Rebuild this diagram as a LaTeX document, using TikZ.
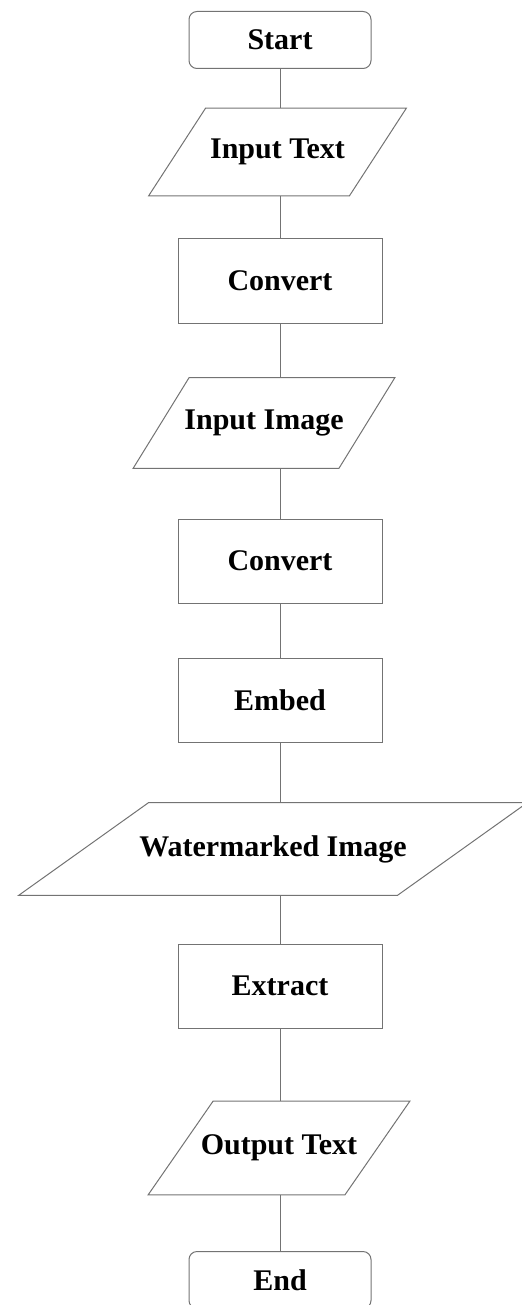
\documentclass[tikz,border=0pt]{standalone}
\usepackage{fontspec}
\setmainfont{Liberation Serif}
\usetikzlibrary{calc}

\tikzset{
  line/.style={draw=black!55, line width=0.5pt},
  lbl/.style={font=\fontsize{15}{17}\selectfont\bfseries},
  term/.style={line, lbl, rounded corners=4pt, minimum width=91pt, minimum height=28.5pt},
  proc/.style={line, lbl, minimum width=102pt, minimum height=42pt},
  io/.style n args={2}{lbl, inner sep=0pt, minimum width=#1, minimum height=#2}
}

% outline of an input/output node, #2 = horizontal shift of top against bottom
\newcommand{\ioshape}[2]{%
  \draw[line] ($(#1.north west)+(#2/2,0)$) -- ($(#1.north east)+(#2/2,0)$)
    -- ($(#1.south east)-(#2/2,0)$) -- ($(#1.south west)-(#2/2,0)$) -- cycle;}

\begin{document}
\begin{tikzpicture}[x=0.5pt, y=-0.5pt]
  \useasboundingbox (0,0) rectangle (522,1305);

  % embedding
  \node[term] (start) at (280,40) {Start};
  \node[io={100pt}{43.5pt}] (intext) at (277.5,152) {Input Text};
  \node[proc] (conv1) at (280,281) {Convert};
  \node[io={102.5pt}{45pt}] (inimg) at (264,423) {Input Image};
  \node[proc] (conv2) at (280,561) {Convert};
  \node[proc] (embed) at (280,700) {Embed};
  \node[io={189pt}{46pt}] (wmimg) at (273,849) {Watermarked Image};

  % extraction
  \node[proc] (extract) at (280,986) {Extract};
  \node[io={98pt}{46.5pt}] (outtext) at (279,1148) {Output Text};
  \node[term] (end) at (280,1280) {End};

  \ioshape{intext}{57}
  \ioshape{inimg}{56}
  \ioshape{wmimg}{130}
  \ioshape{outtext}{65}

  % flow lines
  \draw[line] (start.south) -- (start.south |- intext.north);
  \draw[line] (conv1.north |- intext.south) -- (conv1.north);
  \draw[line] (conv1.south) -- (conv1.south |- inimg.north);
  \draw[line] (conv2.north |- inimg.south) -- (conv2.north);
  \draw[line] (conv2) -- (embed);
  \draw[line] (embed.south) -- (embed.south |- wmimg.north);
  \draw[line] (extract.north |- wmimg.south) -- (extract.north);
  \draw[line] (extract.south) -- (extract.south |- outtext.north);
  \draw[line] (end.north |- outtext.south) -- (end.north);
\end{tikzpicture}
\end{document}
